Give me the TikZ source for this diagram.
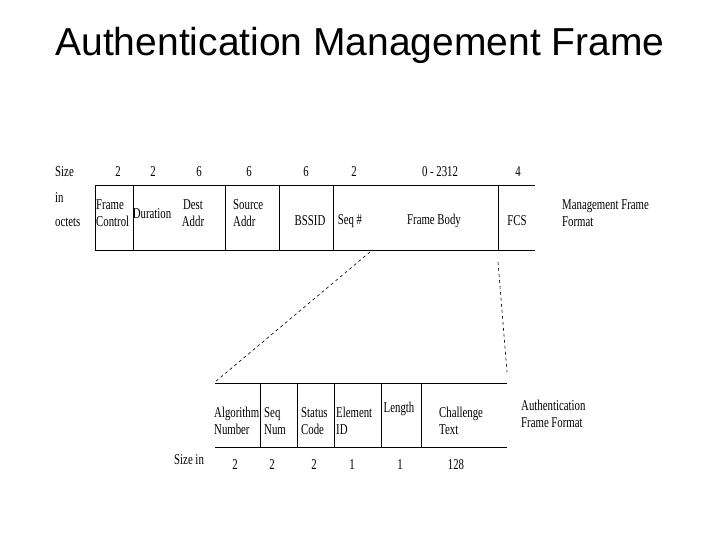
\documentclass[tikz,border=0pt]{standalone}
\usepackage{fontspec}
\setmainfont{Liberation Serif}[FakeStretch=0.72]
\newfontfamily\titlefont{Liberation Sans}
\begin{document}
\begin{tikzpicture}[x=1pt,y=-1pt,
  lbl/.style={font=\fontsize{15}{17}\selectfont,inner sep=0pt,align=center},
  lbll/.style={font=\fontsize{15}{17}\selectfont,inner sep=0pt,align=left},
  box/.style={line width=1pt},
  dashline/.style={dashed,line width=0.6pt}]
\useasboundingbox (0,0) rectangle (720,540);
\node[font=\titlefont\fontsize{39}{42}\selectfont] (title) at (360,45) {Authentication Management Frame};
% top frame
\draw[box] (95,186) -- (535,186);
\draw[box] (95,250) -- (535,250);
\foreach \x in {95,133,225,279,333,498} \draw[line width=0.8pt] (\x,186) -- (\x,250);
\node[lbll,anchor=west] (sz1) at (55,172) {Size};
\node[lbll,anchor=west] (sz2) at (55,198) {in};
\node[lbll,anchor=west] (sz3) at (55,222) {octets};
\foreach \x/\t in {118/2,153/2,199/6,249/6,306/6,354/2,440/0 - 2312,518/4} \node[lbl] at (\x,172) {\t};
\node[lbll,anchor=west] (fc) at (96,213) {Frame\\Control};
\node[lbl] (du) at (152,214) {Duration};
\node[lbl] (da) at (193,213) {Dest\\Addr};
\node[lbll,anchor=west] (sa) at (233,213) {Source\\Addr};
\node[lbl] (bs) at (310,221) {BSSID};
\node[lbl] (sq) at (350,221) {Seq \#};
\node[lbl] (fb) at (434,221) {Frame Body};
\node[lbl] (fcs) at (517,221) {FCS};
\node[lbll,anchor=west] (mf) at (562,213) {Management Frame\\Format};
% bottom frame
\draw[box] (215,383) -- (507,383);
\draw[box] (215,447) -- (507,447);
\foreach \x in {260,297,334,381,421} \draw[line width=0.8pt] (\x,383) -- (\x,447);
\node[lbll,anchor=west] (an) at (214,421) {Algorithm\\Number};
\node[lbll,anchor=west] (sn) at (264,421) {Seq\\Num};
\node[lbll,anchor=west] (sc) at (301,421) {Status\\Code};
\node[lbll,anchor=west] (ei) at (336,421) {Element\\ID};
\node[lbl] (le) at (399,409) {Length};
\node[lbll,anchor=west] (ct) at (439,421) {Challenge\\Text};
\node[lbll,anchor=west] (af) at (521,414) {Authentication\\Frame Format};
\node[lbll,anchor=west] (si) at (174,460) {Size in};
\foreach \x/\t in {235/2,272/2,314/2,352/1,400/1,456/128} \node[lbl] at (\x,465) {\t};
% dashed
\coordinate (d1) at (370,252);
\coordinate (d2) at (215,382);
\coordinate (d3) at (498,262);
\coordinate (d4) at (507,372);
\draw[dashline] (d1) -- (d2);
\draw[dashline] (d3) -- (d4);
\end{tikzpicture}
\end{document}
